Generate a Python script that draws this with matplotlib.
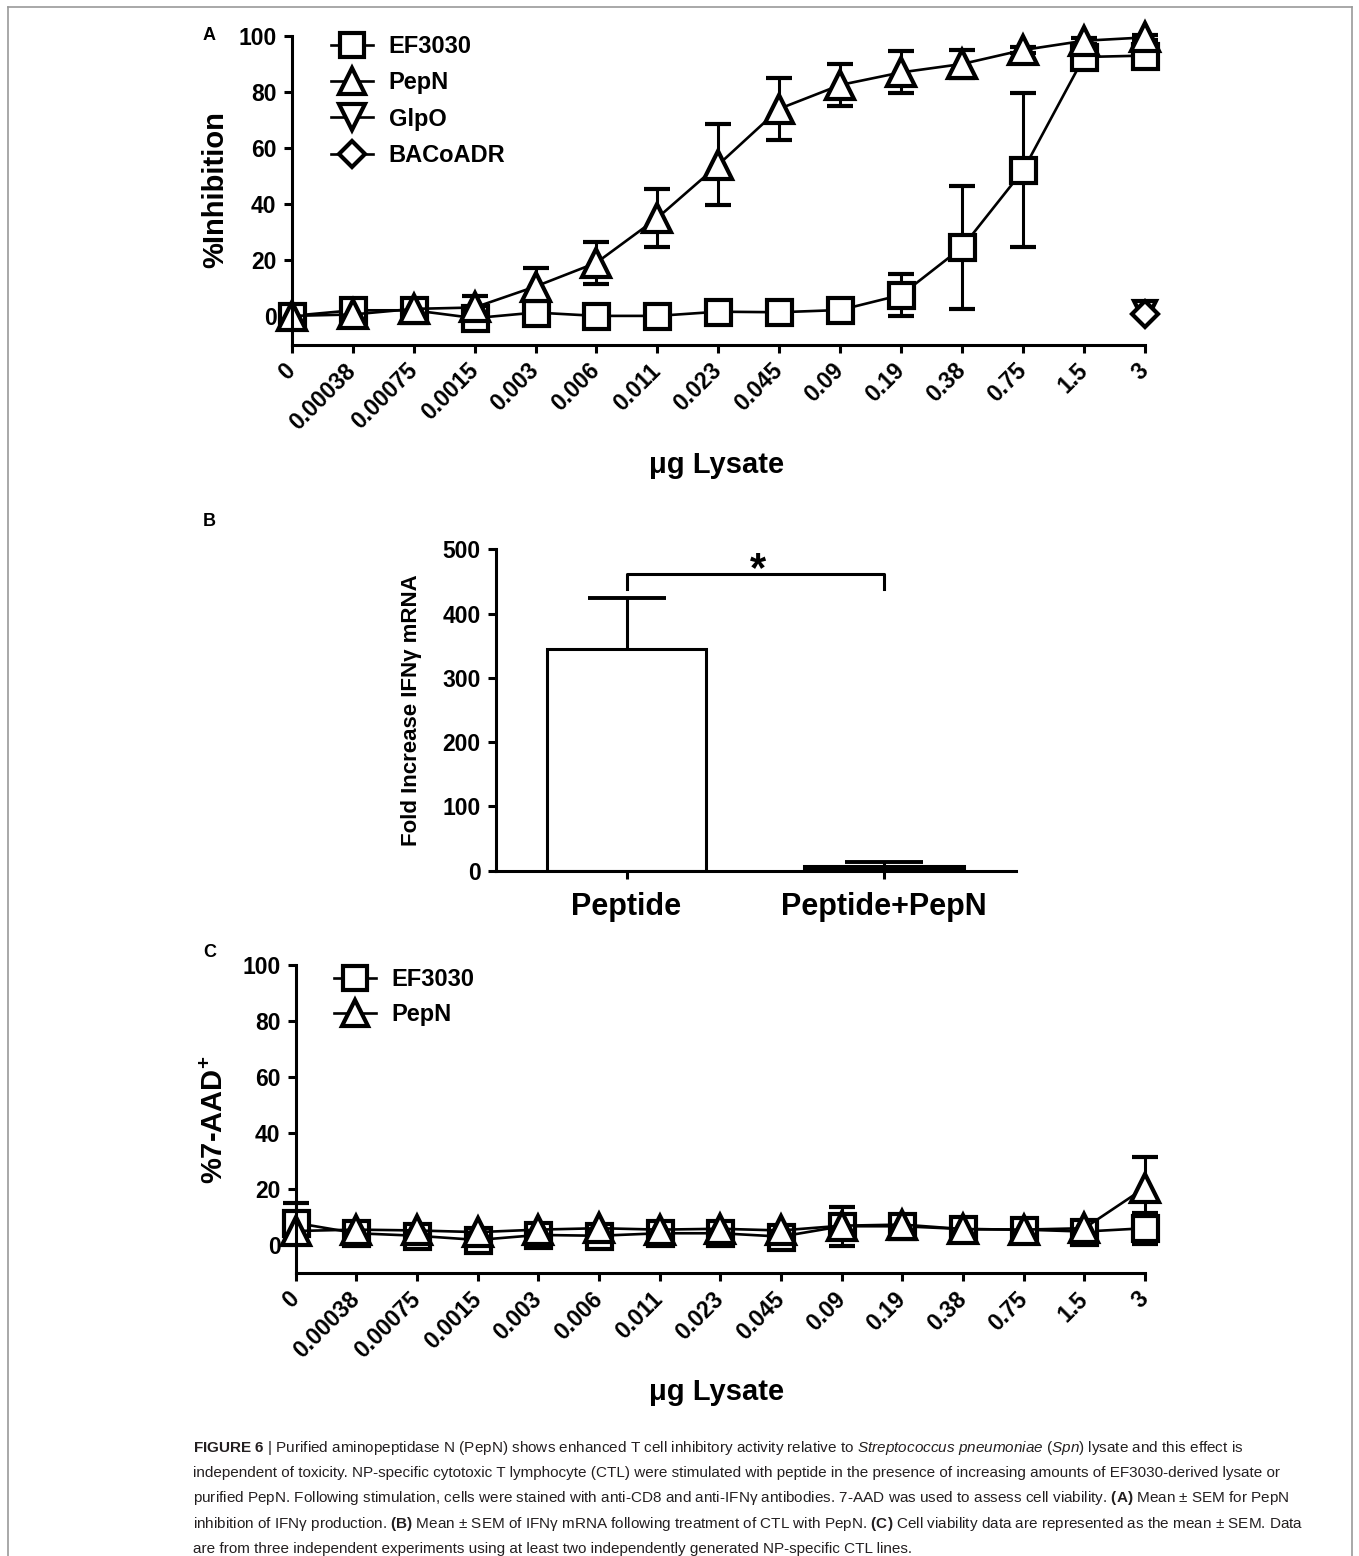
import numpy as np
import matplotlib
matplotlib.use('Agg')
import matplotlib.pyplot as plt
from matplotlib.lines import Line2D

plt.rcParams['font.family'] = ['Liberation Sans', 'DejaVu Sans']
plt.rcParams['font.weight'] = 'bold'
plt.rcParams['mathtext.fontset'] = 'custom'
plt.rcParams['mathtext.rm'] = 'Liberation Sans:weight=normal'
plt.rcParams['mathtext.it'] = 'Liberation Sans:style=italic:weight=normal'
plt.rcParams['mathtext.bf'] = 'Liberation Sans:weight=bold'

# doses (ug lysate), shared by panels A and C
doses = ['0', '0.00038', '0.00075', '0.0015', '0.003', '0.006', '0.011', '0.023',
         '0.045', '0.09', '0.19', '0.38', '0.75', '1.5', '3']

# panel A: % inhibition
ef_inh = [0, 2, 2, -0.8, 1.2, 0, 0, 1.5, 1.3, 2.1, 7.5, 24.5, 52, 92.5, 93]
ef_inh_sem = [0.5, 1, 1, 1, 1, 1, 1, 1, 1, 1, 7.5, 22, 27.5, 1.5, 1.5]
pep_inh = [0, 0.5, 2.5, 3, 10.5, 19, 35, 54, 74, 82.5, 87, 90, 95, 98.3, 99.5]
pep_inh_sem = [0.5, 1, 1, 4, 6.5, 7.5, 10.5, 14.5, 11, 7.5, 7.5, 5, 1, 1, 1]
glpo_inh = [1.5]
bac_inh = [0.5]

# panel B: fold increase IFNg mRNA
groups = ['Peptide', 'Peptide+PepN']
ifng = [345, 7]
ifng_sem = [80, 7]

# panel C: % 7-AAD+
ef_aad = [7.9, 4.2, 3.3, 1.8, 3.6, 3.3, 4.2, 4.2, 3.0, 6.7, 6.7, 5.7, 5.5, 4.8, 6.0]
ef_aad_sem = [7, 1.5, 1.5, 1.5, 1.5, 1.5, 1.5, 1.5, 1.5, 7, 3, 1, 1, 1.5, 5.5]
pep_aad = [5, 5.5, 5.2, 4.6, 5.5, 6, 5.5, 5.8, 5.2, 6.9, 7.3, 5.7, 5.5, 6, 20.5]
pep_aad_sem = [2, 1, 1, 1, 1, 1, 1, 1, 1, 1.5, 1.5, 1, 1, 1, 11]

W, H = 1359, 1556
LW = 2.2
MEW = 3.0

fig = plt.figure(figsize=(W / 100, H / 100), dpi=100)


def px_axes(l, t, r, b):
    return fig.add_axes([l / W, 1 - b / H, (r - l) / W, (b - t) / H])


def style(ax):
    for s in ['top', 'right']:
        ax.spines[s].set_visible(False)
    for s in ['left', 'bottom']:
        ax.spines[s].set_linewidth(LW)
    ax.tick_params(direction='out', length=6, width=LW, labelsize=16.5, pad=5)


def series(ax, x, y, e, marker, label, ms=18):
    c = ax.errorbar(x, y, yerr=e, fmt='-', marker=marker, color='k', mfc='white',
                    mec='k', ms=ms, mew=MEW, lw=1.9, elinewidth=LW, capsize=9.5,
                    capthick=LW + 0.4, label=label)
    for art in c.get_children():
        art.set_clip_on(False)
    return c


def handle(marker, ms=17):
    return Line2D([], [], color='k', marker=marker, mfc='white', mec='k', ms=ms,
                  mew=MEW, lw=1.9)


def dose_axis(ax):
    x = np.arange(len(doses))
    ax.set_xlim(0, len(doses) - 1)
    ax.set_xticks(x)
    ax.set_xticklabels(doses, rotation=45, ha='right', va='center',
                       rotation_mode='anchor', fontsize=16.5, fontweight='bold')
    ax.tick_params(axis='x', pad=10)
    ax.set_yticks([0, 20, 40, 60, 80, 100])
    return x


# ---- panel A ----
axA = px_axes(291.7, 36, 1145, 345)
style(axA)
x = dose_axis(axA)
axA.set_ylim(-10.4, 100)
series(axA, x, ef_inh, ef_inh_sem, 's', 'EF3030')
series(axA, x, pep_inh, pep_inh_sem, '^', 'PepN', ms=20)
series(axA, x[-1:], glpo_inh, None, 'v', 'GlpO', ms=16)
series(axA, x[-1:], bac_inh, None, 'D', 'BACoADR', ms=13)
axA.legend([handle('s'), handle('^', 19), handle('v', 19), handle('D', 13)],
           ['EF3030', 'PepN', 'GlpO', 'BACoADR'], loc='upper left',
           bbox_to_anchor=(0.046, 1.004), frameon=False, fontsize=17,
           handlelength=1.8, handletextpad=0.65, labelspacing=0.57,
           borderpad=0, borderaxespad=0)
fig.text(215 / W, 1 - 190 / H, '%Inhibition', rotation=90, ha='center', va='center',
         fontsize=21, weight='bold')
fig.text(717 / W, 1 - 465 / H, 'μg Lysate', ha='center', va='center',
         fontsize=21, weight='bold')
fig.text(203 / W, 1 - 35 / H, 'A', ha='left', va='center', fontsize=13, weight='bold')

# ---- panel B ----
axB = px_axes(496, 549.3, 1016, 870.7)
style(axB)
xb = np.arange(len(groups))
bars = axB.bar(xb, ifng, width=0.62, color=['white', 'black'], edgecolor='k',
               linewidth=LW, yerr=[[0] * len(ifng), ifng_sem], capsize=28,
               error_kw=dict(elinewidth=LW, capthick=LW + 0.6, ecolor='k'))
# only the upper cap, like a one-sided SEM bar
bars.errorbar.lines[1][0].set_visible(False)
axB.set_xlim(-0.507, 1.513)
axB.set_ylim(0, 500)
axB.set_yticks([0, 100, 200, 300, 400, 500])
axB.set_xticks(xb)
axB.set_xticklabels(groups, fontsize=22, fontweight='bold')
axB.tick_params(axis='x', pad=9)
axB.plot([0, 0, 1, 1], [438, 462, 462, 438], color='k', lw=LW, clip_on=False)
axB.text(0.51, 467, '*', ha='center', va='center', fontsize=30, weight='bold')
fig.text(412 / W, 1 - 710 / H, 'Fold Increase IFNγ mRNA', rotation=90, ha='center',
         va='center', fontsize=16, weight='bold')
fig.text(203 / W, 1 - 522 / H, 'B', ha='left', va='center', fontsize=13, weight='bold')

# ---- panel C ----
axC = px_axes(295.7, 965, 1145, 1273.3)
style(axC)
x = dose_axis(axC)
axC.set_ylim(-10.1, 100)
series(axC, x, ef_aad, ef_aad_sem, 's', 'EF3030')
series(axC, x, pep_aad, pep_aad_sem, '^', 'PepN', ms=20)
axC.legend([handle('s'), handle('^', 19)], ['EF3030', 'PepN'], loc='upper left',
           bbox_to_anchor=(0.045, 0.99), frameon=False, fontsize=17,
           handlelength=1.8, handletextpad=0.65, labelspacing=0.5,
           borderpad=0, borderaxespad=0)
fig.text(215 / W, 1 - 1120 / H, r'%7-AAD$^{\mathbf{+}}$', rotation=90, ha='center',
         va='center', fontsize=21, weight='bold')
fig.text(717 / W, 1 - 1392 / H, 'μg Lysate', ha='center', va='center',
         fontsize=21, weight='bold')
fig.text(203 / W, 1 - 952 / H, 'C', ha='left', va='center', fontsize=13, weight='bold')

# ---- frame and caption ----
frame = dict(transform=fig.transFigure, color='#9a9a9a', lw=1.2)
fig.add_artist(Line2D([8 / W, 8 / W], [0, 1 - 7 / H], **frame))
fig.add_artist(Line2D([8 / W, 1352 / W], [1 - 7 / H, 1 - 7 / H], **frame))
fig.add_artist(Line2D([1352 / W, 1352 / W], [0, 1 - 7 / H], **frame))

caption = [
    r'$\mathbf{FIGURE\ 6}$ | Purified aminopeptidase N (PepN) shows enhanced T cell inhibitory activity relative to $\mathit{Streptococcus\ pneumoniae}$ ($\mathit{Spn}$) lysate and this effect is',
    'independent of toxicity. NP-specific cytotoxic T lymphocyte (CTL) were stimulated with peptide in the presence of increasing amounts of EF3030-derived lysate or',
    r'purified PepN. Following stimulation, cells were stained with anti-CD8 and anti-IFNγ antibodies. 7-AAD was used to assess cell viability. $\mathbf{(A)}$ Mean ± SEM for PepN',
    r'inhibition of IFNγ production. $\mathbf{(B)}$ Mean ± SEM of IFNγ mRNA following treatment of CTL with PepN. $\mathbf{(C)}$ Cell viability data are represented as the mean ± SEM. Data',
    'are from three independent experiments using at least two independently generated NP-specific CTL lines.',
]
for i, line in enumerate(caption):
    fig.text(193 / W, 1 - (1448 + i * 25.2) / H, line, ha='left', va='center',
             fontsize=11, weight='normal', color='#231f20')

fig.savefig('out.png', dpi=100)
